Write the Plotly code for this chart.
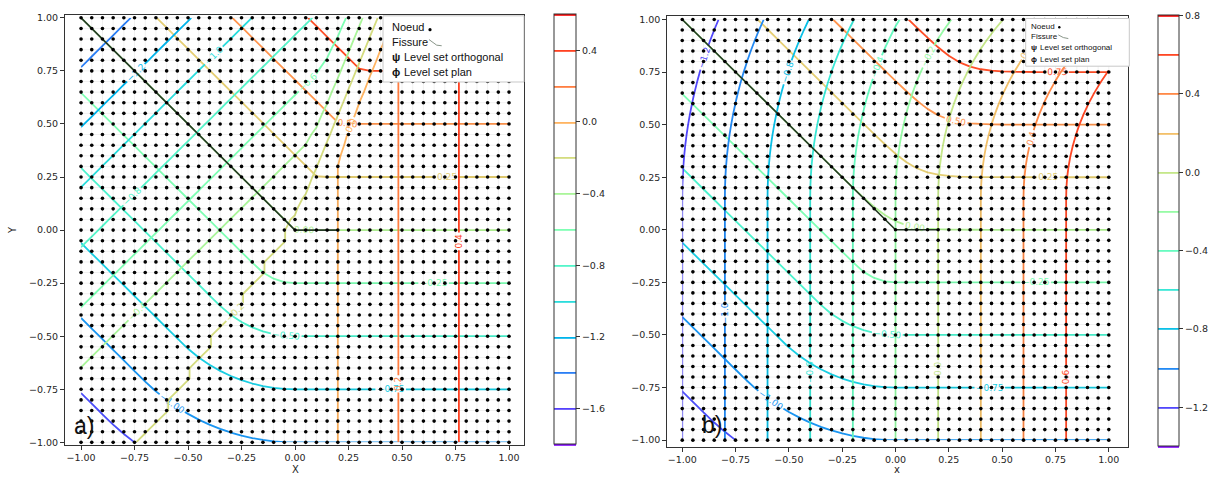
import numpy as np
import plotly.graph_objects as go

# ---------------- data ----------------
NODES = [-1.00, -0.95, -0.90, -0.85, -0.80, -0.75, -0.70, -0.65, -0.60, -0.55,
         -0.50, -0.45, -0.40, -0.35, -0.30, -0.25, -0.20, -0.15, -0.10, -0.05,
         0.00, 0.05, 0.10, 0.15, 0.20, 0.25, 0.30, 0.35, 0.40, 0.45,
         0.50, 0.55, 0.60, 0.65, 0.70, 0.75, 0.80, 0.85, 0.90, 0.95, 1.00]

CRACK_X = [-1.0, 0.0, 0.2]          # Fissure polyline
CRACK_Y = [1.0, 0.0, 0.0]

PSI_A_LEVELS = dict(start=-1.8, end=0.6, size=0.2)
PHI_LEVELS = dict(start=-1.5, end=1.0, size=0.25)
PSI_B_LEVELS = dict(start=-1.4, end=0.8, size=0.2)

CB_A_TICKS = [-1.6, -1.2, -0.8, -0.4, 0.0, 0.4]
CB_B_TICKS = [-1.2, -0.8, -0.4, 0.0, 0.4, 0.8]
AXIS_TICKS = [-1.0, -0.75, -0.5, -0.25, 0.0, 0.25, 0.5, 0.75, 1.0]

LEGEND_TEXT = ["Noeud", "Fissure", "Level set orthogonal", "Level set plan"]
LEGEND_SYMBOLS = ["ψ", "ϕ"]
PANEL_TAGS = ["a)", "b)"]

# level-set shape parameters
PSI_A_SEG1_OFFSET = -0.15
PSI_A_SEG2_SCALE = 0.707
PSI_A_RAY = 0.7
PSI_A_FAN = [-0.205, -0.17]
PSI_A_BLEND_DEG = [57.0, 82.0]
PSI_B_BEND_Y0 = 0.15
PSI_B_BEND = [0.216, 0.055, 0.12]
PHI_B_SOFT = 0.05

# ---------------- fields ----------------
X, Y = np.meshgrid(np.array(NODES), np.array(NODES))
kx, ky = CRACK_X[1], CRACK_Y[1]
sx, sy = CRACK_X[0], CRACK_Y[0]
tx = CRACK_X[2]
L1 = np.hypot(kx - sx, ky - sy)
d1 = np.array([(kx - sx) / L1, (ky - sy) / L1])
n1 = np.array([-d1[1], d1[0]])
DX, DY = X - kx, Y - ky

phi1 = DX * n1[0] + DY * n1[1]
phi2 = DY
psi1_raw = DX * d1[0] + DY * d1[1]
rk = np.hypot(DX, DY)
theta = np.degrees(np.arctan2(DY, DX))

upper = (phi2 >= 0) & (phi1 >= 0)
upperA = upper & (phi1 < phi2)
upperB = upper & ~(phi1 < phi2)
lowerA = ~upper & (psi1_raw <= 0)
lowerB = ~upper & (psi1_raw > 0) & (DX >= 0)
wedge = ~upper & (psi1_raw > 0) & (DX < 0)

# panel a
phi_a = np.where(upperA | lowerA, phi1, np.where(upperB | lowerB, phi2, -rk))
psi1 = psi1_raw + PSI_A_SEG1_OFFSET
psi2 = (X - tx) * PSI_A_SEG2_SCALE
tb = np.clip((theta - PSI_A_BLEND_DEG[0]) / (PSI_A_BLEND_DEG[1] - PSI_A_BLEND_DEG[0]), 0, 1)
wb = tb * tb * (3 - 2 * tb)
psi_up = wb * psi1 + (1 - wb) * psi2
psi_a = np.where(upper, psi_up, psi2)
left_of_ray = DX < PSI_A_RAY * DY
psi_a = np.where(~upper & ~(lowerB) & left_of_ray, np.minimum(psi1, PSI_A_FAN[0]), psi_a)
psi_a = np.where(wedge & ~left_of_ray, PSI_A_FAN[1], psi_a)

# panel b
soft = -PHI_B_SOFT * np.log(np.exp(-phi1 / PHI_B_SOFT) + np.exp(-phi2 / PHI_B_SOFT))
phi_b = np.where(upper, soft, phi_a)
sY = np.clip((Y - PSI_B_BEND_Y0) / (1 - PSI_B_BEND_Y0), 0, None) ** 2
aX = PSI_B_BEND[0] + PSI_B_BEND[1] * X + PSI_B_BEND[2] * np.clip(X, 0, None)
psi_b = X - tx - aX * sY


def rainbow(t):
    r = min(1.0, abs(2 * t - 0.5))
    g = min(1.0, max(0.0, np.sin(np.pi * t)))
    b = min(1.0, max(0.0, np.cos(np.pi * t / 2)))
    return "rgb(%d,%d,%d)" % (r * 255, g * 255, b * 255)


CSCALE = [[i / 20, rainbow(i / 20)] for i in range(21)]

W, H = 1215, 477


def fx(px):
    return px / W


def fy(py):
    return 1 - py / H


fig = go.Figure()

TICKFONT = dict(family="DejaVu Sans", size=9.5, color="#262626")
LW = 1.8
LABELFONT = dict(family="DejaVu Sans", size=9)


def mesh_trace(xa, ya):
    xs, ys = [], []
    for v in NODES:
        xs += [v, v, None]
        ys += [NODES[0], NODES[-1], None]
        xs += [NODES[0], NODES[-1], None]
        ys += [v, v, None]
    return go.Scatter(x=xs, y=ys, mode="lines", line=dict(color="rgba(0,0,0,0.06)", width=1),
                      hoverinfo="skip", xaxis=xa, yaxis=ya, showlegend=False)


def panel(xa, ya, psi, phi, psi_lv, cb):
    fig.add_trace(mesh_trace(xa, ya))
    fig.add_trace(go.Contour(
        x=NODES, y=NODES, z=phi, autocontour=False, contours=dict(
            start=PHI_LEVELS["start"], end=PHI_LEVELS["end"], size=PHI_LEVELS["size"],
            coloring="lines", showlabels=True, labelformat=".2f", labelfont=LABELFONT),
        colorscale=CSCALE, line=dict(width=LW, smoothing=0), showscale=False,
        hoverinfo="skip", xaxis=xa, yaxis=ya))
    fig.add_trace(go.Contour(
        x=NODES, y=NODES, z=psi, autocontour=False, contours=dict(
            start=psi_lv["start"], end=psi_lv["end"], size=psi_lv["size"],
            coloring="lines", showlabels=True, labelformat=".1f", labelfont=LABELFONT),
        colorscale=CSCALE, line=dict(width=LW, smoothing=0), showscale=True,
        colorbar=cb, hoverinfo="skip", xaxis=xa, yaxis=ya))
    fig.add_trace(go.Scatter(x=CRACK_X, y=CRACK_Y, mode="lines",
                             line=dict(color="#243a24", width=1.6), hoverinfo="skip",
                             xaxis=xa, yaxis=ya, showlegend=False))
    gx = [v for v in NODES for _ in NODES]
    gy = [w for _ in NODES for w in NODES]
    fig.add_trace(go.Scatter(x=gx, y=gy, mode="markers",
                             marker=dict(color="black", size=3.6, line=dict(width=0)),
                             hoverinfo="skip", xaxis=xa, yaxis=ya, showlegend=False))


cb_common = dict(xanchor="left", yanchor="middle", lenmode="fraction", thicknessmode="pixels",
                 xpad=0, ypad=0, outlinewidth=1, outlinecolor="#333", ticks="outside",
                 ticklen=4, tickcolor="#333", tickfont=TICKFONT, tickformat=".1f")

panel("x", "y", psi_a, phi_a, PSI_A_LEVELS,
      dict(x=fx(553.7), y=fy(229.35), len=435.3 / H, thickness=22, tickvals=CB_A_TICKS, **cb_common))
panel("x2", "y2", psi_b, phi_b, PSI_B_LEVELS,
      dict(x=fx(1157.7), y=fy(230.85), len=436.3 / H, thickness=21, tickvals=CB_B_TICKS, **cb_common))

ax_common = dict(showgrid=False, zeroline=False, showline=True, mirror=True, linecolor="#333",
                 linewidth=1, ticks="outside", ticklen=4, tickcolor="#333", tickfont=TICKFONT,
                 tickvals=AXIS_TICKS, tickformat=".2f")

fig.update_layout(
    width=W, height=H, margin=dict(l=0, r=0, t=0, b=0), autosize=False,
    paper_bgcolor="white", plot_bgcolor="white", showlegend=False,
    xaxis=dict(domain=[fx(65), fx(524)], range=[-1.075, 1.07], anchor="y", **ax_common),
    yaxis=dict(domain=[fy(447.3), fy(12.3)], range=[-1.011, 1.0126], anchor="x", **ax_common),
    xaxis2=dict(domain=[fx(667.3), fx(1128)], range=[-1.07, 1.09], anchor="y2", **ax_common),
    yaxis2=dict(domain=[fy(449.3), fy(13.3)], range=[-1.031, 1.016], anchor="x2", **ax_common),
)

shapes = []
annots = []


def legend(x0, y0, x1, y1, tx0, tsym, rows, fsize, dot, glyph):
    shapes.append(dict(type="rect", xref="paper", yref="paper", x0=fx(x0), x1=fx(x1),
                       y0=fy(y1), y1=fy(y0), fillcolor="white",
                       line=dict(color="#c8c8c8", width=1), layer="above"))
    font = dict(family="Liberation Sans", size=fsize, color="#111")
    annots.append(dict(x=fx(tx0), y=fy(rows[0]), text=LEGEND_TEXT[0]))
    annots.append(dict(x=fx(tx0), y=fy(rows[1]), text=LEGEND_TEXT[1]))
    annots.append(dict(x=fx(tx0), y=fy(rows[2]), text="<b>" + LEGEND_SYMBOLS[0] + "</b>"))
    annots.append(dict(x=fx(tsym), y=fy(rows[2]), text=LEGEND_TEXT[2]))
    annots.append(dict(x=fx(tx0), y=fy(rows[3]), text="<b>" + LEGEND_SYMBOLS[1] + "</b>"))
    annots.append(dict(x=fx(tsym), y=fy(rows[3]), text=LEGEND_TEXT[3]))
    for a in annots[-6:]:
        a.update(xref="paper", yref="paper", xanchor="left", yanchor="middle",
                 showarrow=False, font=font)
    r = dot[2]
    shapes.append(dict(type="circle", xref="paper", yref="paper",
                       x0=fx(dot[0] - r), x1=fx(dot[0] + r), y0=fy(dot[1] + r), y1=fy(dot[1] - r),
                       fillcolor="black", line=dict(width=0), layer="above"))
    path = "M %f %f L %f %f L %f %f" % (fx(glyph[0][0]), fy(glyph[0][1]), fx(glyph[1][0]),
                                        fy(glyph[1][1]), fx(glyph[2][0]), fy(glyph[2][1]))
    shapes.append(dict(type="path", xref="paper", yref="paper", path=path,
                       line=dict(color="#8a968a", width=1), layer="above"))


legend(383, 13, 524, 80, 390, 402, [24, 39.5, 54.5, 70], 11, (430, 27, 1.6),
       [(429, 37), (436.7, 42.7), (441.7, 43.3)])
legend(1025.7, 15.7, 1129.3, 64, 1029, 1038, [23.5, 34, 45, 57], 8, (1059.3, 24.5, 1.2),
       [(1058.3, 32.3), (1063.3, 35), (1068.3, 36)])

for tag, px, py in [(PANEL_TAGS[0], 72, 428), (PANEL_TAGS[1], 700, 427)]:
    annots.append(dict(x=fx(px), y=fy(py), xref="paper", yref="paper", text=tag,
                       xanchor="left", yanchor="middle", showarrow=False,
                       font=dict(family="Liberation Sans", size=23, color="#111")))

for txt, px, py, ang in [("Y", 12, 230, -90), ("X", 295, 472, 0), ("x", 897, 472, 0)]:
    annots.append(dict(x=fx(px), y=fy(py), xref="paper", yref="paper", text=txt,
                       xanchor="center", yanchor="middle", showarrow=False, textangle=ang,
                       font=dict(family="DejaVu Sans", size=10, color="#262626")))

fig.update_layout(shapes=shapes, annotations=annots)
fig.write_html("out.html", config={"displayModeBar": False},
               post_script="document.body.style.margin='0px';"
               "document.body.style.overflow='hidden';")
